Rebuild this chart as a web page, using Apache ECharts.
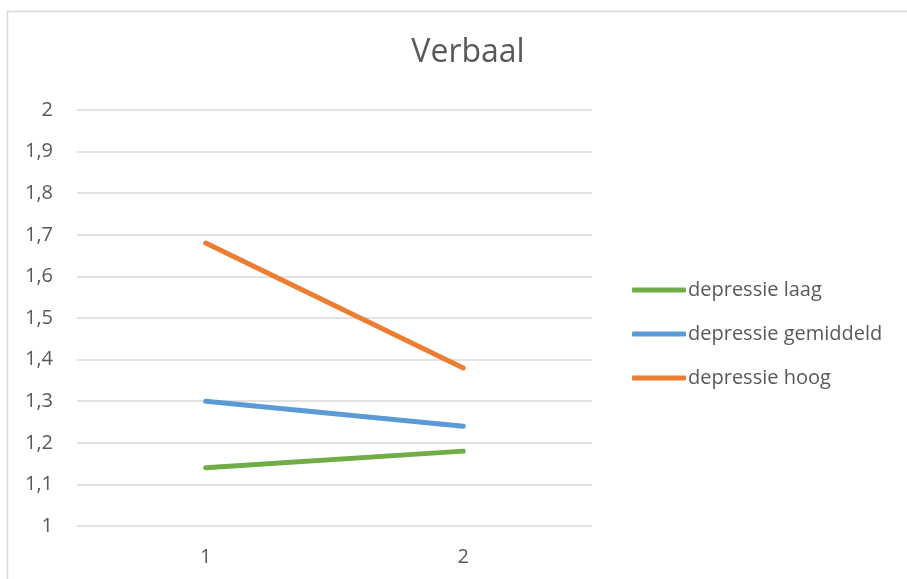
<!DOCTYPE html>
<html>
<head>
<meta charset="utf-8">
<script src="https://cdn.jsdelivr.net/npm/echarts@6/dist/echarts.min.js"></script>
<style>html,body{margin:0;padding:0;background:#fff}#c{width:907px;height:579px}</style>
</head>
<body>
<div id="c"></div>
<script>
var categories = ['1', '2'];
var seriesNames = ['depressie laag', 'depressie gemiddeld', 'depressie hoog'];
var laag = [1.14, 1.18];
var gemiddeld = [1.30, 1.24];
var hoog = [1.68, 1.38];
var colors = ['#70AD47', '#5B9BD5', '#ED7D31'];
var font = 'Open Sans, "Noto Sans", Calibri, sans-serif';

var chart = echarts.init(document.getElementById('c'));
function mk(name, data, color) {
  return {
    name: name, type: 'line', data: data, symbol: 'none',
    lineStyle: { width: 5, color: color, cap: 'round' },
    itemStyle: { color: color }
  };
}
chart.setOption({
  animation: false,
  graphic: [{
    type: 'rect', shape: { x: 7.5, y: 11.5, width: 910, height: 580 },
    style: { fill: 'none', stroke: '#d9d9d9', lineWidth: 1.5 }, silent: true
  }],
  title: {
    text: 'Verbaal', left: 463, top: 32, textAlign: 'center',
    textStyle: { fontFamily: font, fontSize: 32, fontWeight: 'normal', color: '#595959' }
  },
  grid: { left: 77, right: 315, top: 110, bottom: 53, containLabel: false },
  legend: {
    orient: 'vertical', left: 627, top: 273, itemWidth: 54, itemHeight: 5, itemGap: 20,
    icon: 'roundRect',
    textStyle: { fontFamily: font, fontSize: 20, lineHeight: 24, color: '#595959', padding: [0, 0, 0, -3] },
    data: seriesNames
  },
  xAxis: {
    type: 'category', data: categories, boundaryGap: true,
    axisLine: { show: false }, axisTick: { show: false },
    axisLabel: { fontFamily: font, fontSize: 20, color: '#595959', margin: 21 }
  },
  yAxis: {
    type: 'value', min: 1, max: 2, interval: 0.1,
    axisLine: { show: false }, axisTick: { show: false },
    splitLine: { lineStyle: { color: '#d9d9d9', width: 1.5 } },
    axisLabel: {
      fontFamily: font, fontSize: 20, color: '#595959', margin: 24,
      formatter: function (v) { return (Math.round(v * 10) / 10).toString().replace('.', ','); }
    }
  },
  series: [mk(seriesNames[0], laag, colors[0]), mk(seriesNames[1], gemiddeld, colors[1]), mk(seriesNames[2], hoog, colors[2])]
});
</script>
</body>
</html>
